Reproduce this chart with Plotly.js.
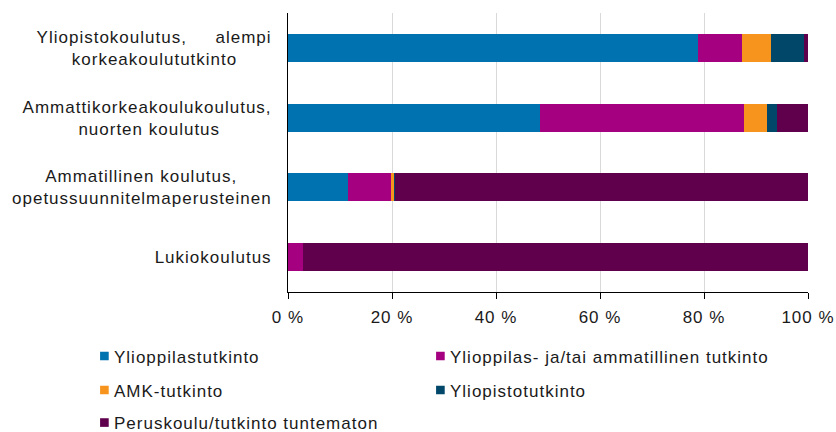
<!DOCTYPE html>
<html>
<head>
<meta charset="utf-8">
<script src="https://cdn.plot.ly/plotly-3.0.1.min.js"></script>
<style>
  html, body { margin: 0; padding: 0; background: #fff; }
  #chart { width: 836px; height: 432px; }
  svg text, svg tspan { letter-spacing: 1px; white-space: pre; }
  .legendpoints { transform: translate(16px, 0px) scale(0.72); }
</style>
</head>
<body>
<div id="chart"></div>
<script>
const NB = '\u00A0';
// Categories, top to bottom
const categories = [
  'Yliopistokoulutus,' + NB.repeat(5) + 'alempi<br>korkeakoulututkinto' + NB.repeat(6),
  'Ammattikorkeakoulukoulutus,<br>nuorten koulutus' + NB.repeat(9),
  'Ammatillinen koulutus,' + NB.repeat(6) + '<br>opetussuunnitelmaperusteinen',
  'Lukiokoulutus'
];
const seriesNames = [
  'Ylioppilastutkinto',
  'Ylioppilas- ja/tai ammatillinen tutkinto',
  'AMK-tutkinto',
  'Yliopistotutkinto',
  'Peruskoulu/tutkinto tuntematon'
];
const ylioppilastutkinto   = [78.8, 48.4, 11.5, 0];
const ylioppilasTaiAmm     = [8.6, 39.2, 8.4, 2.9];
const amkTutkinto          = [5.4, 4.6, 0.5, 0];
const yliopistotutkinto    = [6.5, 1.8, 0.2, 0];
const peruskouluTuntematon = [0.7, 6.0, 79.4, 97.1];
const xTickVals = [0, 20, 40, 60, 80, 100];
const xTickText = ['0 %', '20 %', '40 %', '60 %', '80 %', '100 %'];

const seriesValues = [ylioppilastutkinto, ylioppilasTaiAmm, amkTutkinto, yliopistotutkinto, peruskouluTuntematon];
const colors = ['#0072b0', '#a5007f', '#f7941e', '#00476a', '#60004c'];
const legendIds = ['legend', 'legend2', 'legend3', 'legend4', 'legend5'];

const traces = seriesNames.map((name, i) => ({
  type: 'bar',
  orientation: 'h',
  name: name,
  y: categories,
  x: seriesValues[i],
  marker: { color: colors[i], line: { width: 0 } },
  legend: legendIds[i],
  hoverinfo: 'x+name'
}));

const FONT = { family: '"Liberation Sans", Arial, sans-serif', size: 17, color: '#1a1a1a' };
const plotTop = 13, plotBottom = 292, plotLeft = 288, plotRight = 808, H = 432;
const ph = plotBottom - plotTop, pw = plotRight - plotLeft;
function py(pix) { return (plotBottom - pix) / ph; }
function px(pix) { return (pix - plotLeft) / pw; }
// legend box left edges and row centres
const col1 = 74, col2 = 410;
const row1 = 356.5, row2 = 390.5, row3 = 423;
function mkLegend(xp, yp) {
  return {
    orientation: 'v', xanchor: 'left', yanchor: 'middle',
    x: px(xp), y: py(yp),
    font: FONT, bgcolor: 'rgba(0,0,0,0)', borderwidth: 0
  };
}

const layout = {
  width: 836, height: 432,
  margin: { l: plotLeft, r: 836 - plotRight, t: plotTop, b: H - plotBottom, pad: 0, autoexpand: false },
  paper_bgcolor: '#fff', plot_bgcolor: '#fff',
  font: FONT,
  barmode: 'stack',
  bargap: 0.6,
  showlegend: true,
  xaxis: {
    range: [0, 100], tickvals: xTickVals, ticktext: xTickText,
    showgrid: true, gridcolor: '#d9d9d9', gridwidth: 1,
    zeroline: false,
    showline: true, linecolor: '#000', linewidth: 1,
    ticks: 'outside', ticklen: 6, tickcolor: '#000', tickwidth: 1,
    ticklabelstandoff: 4,
    tickfont: FONT, fixedrange: true
  },
  yaxis: {
    type: 'category', autorange: 'reversed',
    showgrid: false, zeroline: false,
    showline: true, linecolor: '#000', linewidth: 1,
    ticks: '', ticklabelstandoff: 12,
    tickfont: FONT, fixedrange: true
  },
  legend: mkLegend(col1, row1),
  legend2: mkLegend(col2, row1),
  legend3: mkLegend(col1, row2),
  legend4: mkLegend(col2, row2),
  legend5: mkLegend(col1, row3)
};

Plotly.newPlot('chart', traces, layout, { displayModeBar: false, staticPlot: true });
</script>
</body>
</html>
